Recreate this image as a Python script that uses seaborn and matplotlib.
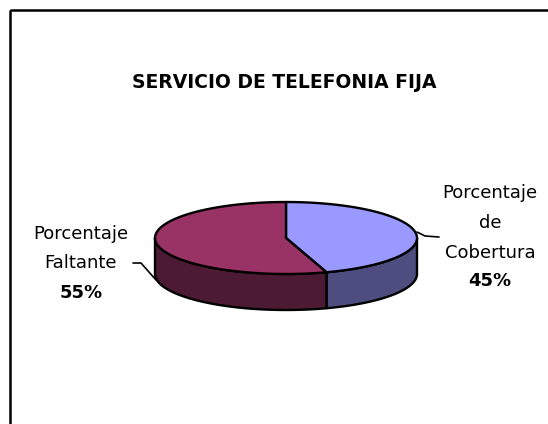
import numpy as np
import matplotlib
matplotlib.use("Agg")
import matplotlib.pyplot as plt
from matplotlib.patches import Polygon, Rectangle
import seaborn as sns

# data
categorias = ["Porcentaje\nde\nCobertura", "Porcentaje\nFaltante"]
porcentajes = [45, 55]
colores_tapa = ["#9999FF", "#993366"]
colores_lado = ["#4D4D80", "#4D1A33"]

sns.set_style("white")
plt.rcParams["font.family"] = ["DejaVu Sans"]
plt.rcParams["text.color"] = "black"

fig = plt.figure(figsize=(5.48, 4.24), dpi=100)
ax = fig.add_axes([0, 0, 1, 1])
ax.set_xlim(0, 548)
ax.set_ylim(424, 0)
ax.axis("off")

# chart frame
ax.add_patch(Rectangle((10, 10), 560, 440, fill=False, ec="black", lw=1.8))

ax.text(284, 82, "SERVICIO DE TELEFONIA FIJA", ha="center", va="center",
        fontsize=13.5, fontweight="bold")

# 3D pie geometry
cx, cy, R, r, depth = 286, 238, 131, 36, 36


def arc(t1, t2, n=120):
    t = np.radians(np.linspace(t1, t2, n))
    return np.column_stack([cx + R * np.cos(t), cy - r * np.sin(t)])


# slice angles: start at the top, clockwise
total = sum(porcentajes)
angulos = []
inicio = 90.0
for v in porcentajes:
    fin = inicio - 360.0 * v / total
    angulos.append((fin, inicio))
    inicio = fin

# sides (only the front half is visible)
for (a1, a2), col in zip(angulos, colores_lado):
    a1n, a2n = a1 % 360, a2 % 360
    if a2n <= a1n:
        a2n += 360
    lo, hi = max(a1n, 180), min(a2n, 360)
    if lo >= hi:
        lo, hi = max(a1n - 360, 180), min(a2n - 360, 360)
        if lo >= hi:
            continue
    top = arc(lo, hi)
    bot = top[::-1] + [0, depth]
    ax.add_patch(Polygon(np.vstack([top, bot]), closed=True, fc=col,
                         ec="black", lw=1.7, joinstyle="round"))

# tops
for (a1, a2), col in zip(angulos, colores_tapa):
    pts = np.vstack([[cx, cy], arc(a1, a2)])
    ax.add_patch(Polygon(pts, closed=True, fc=col, ec="black", lw=1.7,
                         joinstyle="round"))

# labels
ax.text(490, 223, categorias[0], ha="center", va="center", fontsize=13,
        linespacing=1.85)
ax.text(490, 281, f"{porcentajes[0]}%", ha="center", va="center",
        fontsize=13, fontweight="bold")
ax.text(81, 248.5, categorias[1], ha="center", va="center", fontsize=13,
        linespacing=1.85)
ax.text(81, 293, f"{porcentajes[1]}%", ha="center", va="center",
        fontsize=13, fontweight="bold")

# leader lines
ax.plot([417, 425, 439], [232, 236, 237], color="black", lw=1.2)
ax.plot([133, 141, 156], [263, 263, 280], color="black", lw=1.2)

fig.savefig("out.png", dpi=100, facecolor="white")
